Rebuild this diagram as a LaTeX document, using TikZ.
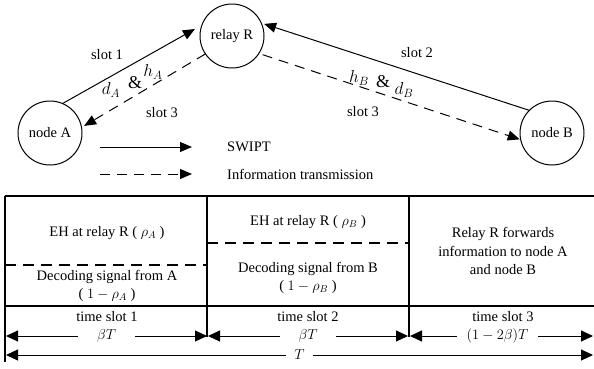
\documentclass[tikz,border=0pt]{standalone}
\usepackage{fontspec}
\setmainfont{Liberation Serif}
\usetikzlibrary{arrows.meta}

\begin{document}
\begin{tikzpicture}[
  x = 1pt, y = -1pt,
  every node/.style = {
    font = \fontsize{14.5}{18.5}\selectfont,
    inner sep = 1pt,
  },
  vertex/.style = {
    shape = circle,
    draw = black,
    line width = 1pt,
    minimum size = 64pt,
    inner sep = 0pt,
    outer sep = 0pt,
  },
  chan/.style = {
    font = \fontsize{18}{20}\selectfont,
  },
  swipt/.style = {
    line width = 1pt,
    -{Triangle[length = 12pt, width = 10pt]},
  },
  info/.style = {
    swipt,
    dash pattern = on 10pt off 7pt,
  },
  tabline/.style = {
    line width = 1.1pt,
  },
  dimline/.style = {
    line width = 1pt,
    {Triangle[length = 12pt, width = 11pt]}-{Triangle[length = 12pt, width = 11pt]},
  },
  gap/.style = {
    midway, fill = white, inner ysep = 0pt,
  },
]
  \useasboundingbox (0, 0) rectangle (594, 368);

  \node[vertex] (relay) at (232, 36) {relay R};
  \node[vertex] (nodeA) at (50, 133) {node A};
  \node[vertex] (nodeB) at (552, 133) {node B};

  \draw[swipt, shorten > = 8pt] (nodeA.67) -- (relay.160);
  \draw[info, shorten > = 3pt] (relay.214) -- (nodeA.10);
  \draw[swipt, shorten > = 3pt] (nodeB.135) -- (relay.24);
  \draw[info, shorten < = 4pt, shorten > = 1pt] (relay.-33) -- (nodeB.192);

  \node (slotA) at (107, 55) {slot 1};
  \node (slotRA) at (162, 113) {slot 3};
  \node (slotB) at (417, 53) {slot 2};
  \node (slotRB) at (363, 112) {slot 3};

  \node[chan] (dA) at (111, 90) {\(d_A\)};
  \node[chan] (ampA) at (135, 83) {\&};
  \node[chan] (hA) at (153, 72) {\(h_A\)};
  \node[chan] (hB) at (359, 78) {\(h_B\)};
  \node[chan] (ampB) at (383, 82) {\&};
  \node[chan] (dB) at (404, 90) {\(d_B\)};

  \coordinate (legS1) at (100, 147);
  \coordinate (legS2) at (192, 147);
  \coordinate (legI1) at (100, 174);
  \coordinate (legI2) at (192, 174);
  \draw[swipt] (legS1) -- (legS2);
  \draw[info] (legI1) -- (legI2);
  \node[anchor = west] (legS) at (226, 147) {SWIPT};
  \node[anchor = west] (legI) at (226, 174) {Information transmission};

  \draw[tabline] (5, 196) -- (594, 196);
  \draw[tabline] (5, 306) -- (594, 306);
  \draw[tabline] (5, 196) -- (5, 362);
  \draw[tabline] (207, 196) -- (207, 337);
  \draw[tabline] (409, 196) -- (409, 337);
  \draw[tabline, dash pattern = on 11pt off 7pt] (5, 265) -- (207, 265);
  \draw[tabline, dash pattern = on 11pt off 7pt] (207, 243) -- (409, 243);

  \node (ehA) at (107, 233) {EH at relay R ( \(\rho_A\) )};
  \node[align = center] (decA) at (107, 286) {Decoding signal from A\\( \(1-\rho_A\) )};
  \node (ehB) at (308, 222) {EH at relay R ( \(\rho_B\) )};
  \node[align = center] (decB) at (308, 278) {Decoding signal from B\\( \(1-\rho_B\) )};
  \node[align = center] (fwd) at (503, 251) {Relay R forwards\\information to node A\\and node B};

  \node (tsA) at (107, 317) {time slot 1};
  \node (tsB) at (308, 317) {time slot 2};
  \node (tsC) at (503, 317) {time slot 3};

  \draw[dimline] (6, 336) -- (207, 336) node[gap, inner xsep = 19pt] {\(\beta T\)};
  \draw[dimline] (208, 336) -- (408, 336) node[gap, inner xsep = 19pt] {\(\beta T\)};
  \draw[dimline] (410, 336) -- (593, 336) node[gap, inner xsep = 10pt, xshift = -4pt] {\((1-2\beta)T\)};
  \draw[dimline] (6, 355) -- (593, 355) node[gap, inner xsep = 8pt] {\(T\)};
\end{tikzpicture}
\end{document}
